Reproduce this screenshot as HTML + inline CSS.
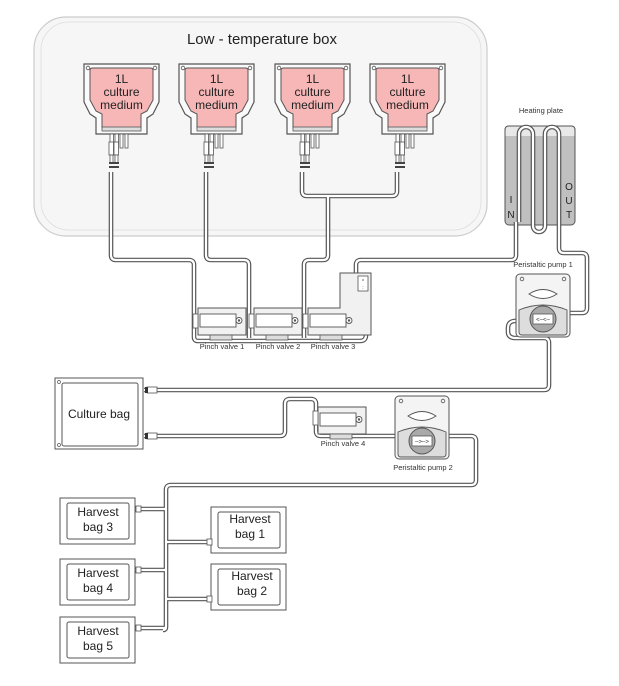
<!DOCTYPE html>
<html><head><meta charset="utf-8"><style>
html,body{margin:0;padding:0;background:#fff;}
svg{display:block;font-family:"Liberation Sans",sans-serif;}
.to{fill:none;stroke:#555;stroke-width:4.6;stroke-linejoin:round;stroke-linecap:butt;}
.ti{fill:none;stroke:#fff;stroke-width:2.2;stroke-linejoin:round;stroke-linecap:butt;}
.lbl{font-size:7.5px;fill:#333;text-anchor:middle;}
.big{font-size:12px;fill:#222;text-anchor:middle;}
</style></head><body>
<svg width="619" height="686" viewBox="0 0 619 686" xmlns="http://www.w3.org/2000/svg">
<defs>
 <path id="t1" d="M111,172 V255 Q111,260 116,260 H189 Q194,260 194,265 V337 Q194,341 198,341 H360 Q366,341 366,335 V333"/>
 <path id="t2" d="M206,172 V255 Q206,260 211,260 H244 Q249,260 249,265 V338"/>
 <path id="t3" d="M302,172 V191 Q302,196 307,196 H392 Q397,196 397,191 V172"/>
 <path id="t4" d="M328,196 V255 Q328,260 323,260 H309 Q304,260 304,265 V338"/>
 <path id="t5" d="M356,276 V265 Q356,260 361,260 H511 Q516,260 516,255 V222"/>
 <path id="t6" d="M519,222 V134 A7,7 0 0 1 533,134 V226 A6,6 0 0 0 545,226 V134 A7,7 0 0 1 559,134 V248 Q559,253 564,253 H582 Q587,253 587,258 V308 Q587,313 582,313 H569"/>
 <path id="t7" d="M518,321 Q508,320 508,328 V332 Q508,337 514,338 H544 Q549,338 549,343 V385 Q549,390 544,390 H144"/>
 <path id="t8" d="M144,436 H280 Q285,436 285,431 V404 Q285,399 290,399 H311 Q316,399 316,404 V431 Q316,436 321,436 H400"/>
 <path id="t9" d="M448,436 H471 Q476,436 476,441 V480 Q476,485 471,485 H171 Q166,485 166,490 V627 Q166,630 163,630"/>
 <path id="t10" d="M135,509 H166 M135,570 H166 M135,628 H166 M166,542 H212 M166,599 H212"/>
 <g id="bag">
  <path d="M0,0 H75 V38 L69,50 L63,54 V70 H12 V54 L6,50 L0,38 Z" fill="#fafafa" stroke="#555" stroke-width="1.2"/>
  <path d="M6,6 Q6,4 9,4 H66 Q69,4 69,6 V36 L63,47 L57,50 V64 H18 V50 L12,47 L6,36 Z" fill="#f7b7b7" stroke="#555" stroke-width="1"/>
  <rect x="18" y="63" width="39" height="4" fill="#ddd" stroke="#555" stroke-width="0.8"/>
  <circle cx="4" cy="4" r="1.8" fill="none" stroke="#555" stroke-width="0.8"/>
  <circle cx="71" cy="4" r="1.8" fill="none" stroke="#555" stroke-width="0.8"/>
  <text class="big" x="37.5" y="19">1L</text>
  <text class="big" x="37.5" y="32">culture</text>
  <text class="big" x="37.5" y="45">medium</text>
  <g fill="#fff" stroke="#555" stroke-width="0.8">
   <rect x="26" y="70" width="3.5" height="10"/><rect x="31" y="70" width="3.5" height="10"/>
   <rect x="36" y="70" width="3" height="14"/><rect x="41" y="70" width="3" height="14"/>
   <rect x="25" y="78" width="4.5" height="13"/><rect x="30" y="78" width="4.5" height="13"/>
   <rect x="26" y="91" width="3" height="8"/><rect x="31" y="91" width="3" height="8"/>
  </g>
  <g fill="#444"><rect x="25" y="98" width="5" height="2"/><rect x="30" y="98" width="5" height="2"/><rect x="25" y="102" width="5" height="2"/><rect x="30" y="102" width="5" height="2"/></g>
 </g>
 <g id="pump">
  <rect x="0" y="0" width="54" height="63" rx="4" fill="#f4f4f4" stroke="#555" stroke-width="1"/>
  <circle cx="6" cy="5" r="1.8" fill="none" stroke="#555" stroke-width="0.8"/>
  <circle cx="48" cy="5" r="1.8" fill="none" stroke="#555" stroke-width="0.8"/>
  <path d="M13,20 Q27,11 41,20 Q27,29 13,20 Z" fill="#fff" stroke="#555" stroke-width="0.9"/>
  <path d="M3,36 Q27,26 51,36 V58 Q51,61 48,61 H6 Q3,61 3,58 Z" fill="#ddd" stroke="#555" stroke-width="0.9"/>
  <circle cx="27" cy="45" r="13" fill="#a9a9a9" stroke="#555" stroke-width="1"/>
  <rect x="17" y="40" width="20" height="10" fill="#fff" stroke="#555" stroke-width="0.8"/>
 </g>
 <g id="valve">
  <rect x="0" y="0" width="48" height="27" fill="#f1f1f1" stroke="#555" stroke-width="1"/>
  <rect x="2" y="6" width="36" height="13" fill="#fff" stroke="#555" stroke-width="0.9"/>
  <circle cx="41" cy="12.5" r="3" fill="#fff" stroke="#555" stroke-width="0.9"/>
  <circle cx="41" cy="12.5" r="1.2" fill="#555"/>
  <rect x="12" y="27" width="22" height="5" fill="#ddd" stroke="#555" stroke-width="0.8"/>
 </g>
 <g id="hbag">
  <rect x="0" y="0" width="75" height="46" fill="#fff" stroke="#555" stroke-width="1"/>
  <rect x="7" y="5" width="62" height="36" rx="2" fill="#fff" stroke="#555" stroke-width="1"/>
 </g>
</defs>

<rect x="34" y="17" width="453" height="219" rx="32" fill="#f6f6f6" stroke="#ccc" stroke-width="1.2"/>
<rect x="41" y="22" width="440" height="208" rx="28" fill="none" stroke="#ddd" stroke-width="0.8"/>
<text x="262" y="44" font-size="15" fill="#222" text-anchor="middle">Low - temperature box</text>

<use href="#bag" x="84" y="64"/>
<use href="#bag" x="179" y="64"/>
<use href="#bag" x="275" y="64"/>
<use href="#bag" x="370" y="64"/>

<rect x="505" y="126" width="70" height="99" rx="4" fill="#c0c0c0" stroke="#555" stroke-width="1"/>
<path d="M505,136 V130 Q505,126 509,126 H571 Q575,126 575,130 V136" fill="#e8e8e8" stroke="#555" stroke-width="1"/>
<text x="541" y="113" class="lbl">Heating plate</text>
<text x="511" y="203" font-size="10" fill="#222" text-anchor="middle">I</text>
<text x="511" y="218" font-size="10" fill="#222" text-anchor="middle">N</text>
<text x="569" y="190" font-size="10" fill="#222" text-anchor="middle">O</text>
<text x="569" y="204" font-size="10" fill="#222" text-anchor="middle">U</text>
<text x="569" y="218" font-size="10" fill="#222" text-anchor="middle">T</text>

<g class="to"><use href="#t1"/><use href="#t2"/><use href="#t3"/><use href="#t4"/><use href="#t5"/><use href="#t6"/><use href="#t7"/><use href="#t8"/><use href="#t9"/><use href="#t10"/></g>
<g class="ti"><use href="#t1"/><use href="#t2"/><use href="#t3"/><use href="#t4"/><use href="#t5"/><use href="#t6"/><use href="#t7"/><use href="#t8"/><use href="#t9"/><use href="#t10"/></g>

<use href="#valve" x="198" y="308"/>
<use href="#valve" x="254" y="308"/>
<path d="M308,308 H340 V273 H371 V335 H308 Z" fill="#f1f1f1" stroke="#555" stroke-width="1"/>
<rect x="310" y="314" width="36" height="13" fill="#fff" stroke="#555" stroke-width="0.9"/>
<circle cx="349" cy="320.5" r="3" fill="#fff" stroke="#555" stroke-width="0.9"/>
<circle cx="349" cy="320.5" r="1.2" fill="#555"/>
<rect x="320" y="335" width="22" height="5" fill="#ddd" stroke="#555" stroke-width="0.8"/>
<rect x="358" y="276" width="10" height="15" fill="#fff" stroke="#555" stroke-width="0.8"/>
<text x="363" y="283" font-size="5" text-anchor="middle" fill="#333">^</text>
<text x="363" y="289" font-size="5" text-anchor="middle" fill="#333">:</text>
<g fill="#fff" stroke="#555" stroke-width="0.8"><rect x="193" y="314" width="5" height="14"/><rect x="249" y="314" width="5" height="14"/><rect x="303" y="314" width="5" height="14"/></g>
<text x="222" y="349" class="lbl">Pinch valve 1</text>
<text x="278" y="349" class="lbl">Pinch valve 2</text>
<text x="333" y="349" class="lbl">Pinch valve 3</text>

<use href="#pump" x="516" y="274"/>
<text x="543" y="321.5" font-size="6" text-anchor="middle" fill="#333">&lt;–&lt;–</text>
<text x="543" y="267" class="lbl">Peristaltic pump 1</text>

<rect x="55" y="378" width="88" height="71" fill="#fff" stroke="#555" stroke-width="1"/>
<rect x="62" y="383" width="76" height="63" rx="2" fill="#fff" stroke="#555" stroke-width="1"/>
<circle cx="59" cy="382" r="1.5" fill="none" stroke="#555" stroke-width="0.7"/>
<circle cx="59" cy="445" r="1.5" fill="none" stroke="#555" stroke-width="0.7"/>
<text x="99" y="418" font-size="12" fill="#222" text-anchor="middle">Culture bag</text>
<g fill="#fff" stroke="#555" stroke-width="0.8"><rect x="147" y="387" width="10" height="6"/><rect x="147" y="433" width="10" height="6"/></g>
<g fill="#333"><rect x="145" y="387" width="3" height="6"/><rect x="145" y="433" width="3" height="6"/></g>

<use href="#valve" x="318" y="407"/>
<rect x="313" y="411" width="5" height="14" fill="#fff" stroke="#555" stroke-width="0.8"/>
<text x="343" y="446" class="lbl">Pinch valve 4</text>

<use href="#pump" x="395" y="396"/>
<text x="422" y="443.5" font-size="6" text-anchor="middle" fill="#333">–&gt;–&gt;</text>
<text x="423" y="470" class="lbl">Peristaltic pump 2</text>

<use href="#hbag" x="60" y="498"/>
<use href="#hbag" x="60" y="559"/>
<use href="#hbag" x="60" y="617"/>
<use href="#hbag" x="211" y="507"/>
<use href="#hbag" x="211" y="564"/>
<g font-size="12" fill="#222" text-anchor="middle">
<text x="98" y="516">Harvest</text><text x="98" y="531">bag 3</text>
<text x="98" y="577">Harvest</text><text x="98" y="592">bag 4</text>
<text x="98" y="635">Harvest</text><text x="98" y="650">bag 5</text>
<text x="250" y="523">Harvest</text><text x="250" y="538">bag 1</text>
<text x="252" y="580">Harvest</text><text x="252" y="595">bag 2</text>
</g>
<g fill="#fff" stroke="#555" stroke-width="0.8">
<rect x="136" y="506" width="5" height="6"/><rect x="136" y="567" width="5" height="6"/><rect x="136" y="625" width="5" height="6"/>
<rect x="207" y="539" width="5" height="6"/><rect x="207" y="596" width="5" height="6"/>
</g>
</svg>
</body></html>
